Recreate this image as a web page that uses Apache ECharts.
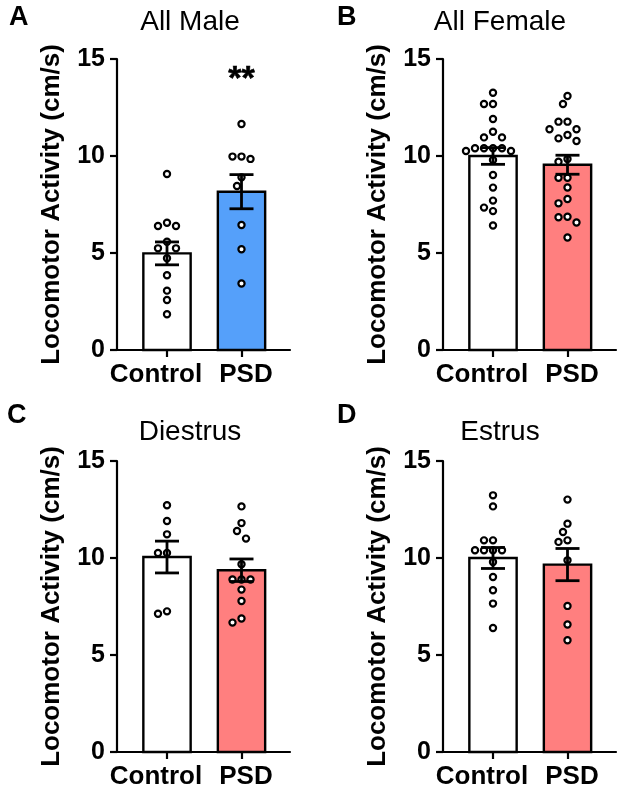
<!DOCTYPE html>
<html><head><meta charset="utf-8">
<script src="https://cdn.jsdelivr.net/npm/echarts@6/dist/echarts.min.js"></script>
<style>html,body{margin:0;padding:0;background:#fff}#c{width:624px;height:792px}</style>
</head><body><div id="c"></div>
<script>
// ---------- data ----------
const categories = ['Control', 'PSD'];
const panelTitles = ['All Male', 'All Female', 'Diestrus', 'Estrus'];
const panelLetters = ['A', 'B', 'C', 'D'];
const yTicks = [0, 5, 10, 15];
const yAxisName = 'Locomotor Activity (cm/s)';
const significance = '**';

// bar heights (mean) and SEM
const maleMean = [4.98, 8.16];     const maleSem = [0.59, 0.88];
const femaleMean = [10.0, 9.55];   const femaleSem = [0.43, 0.49];
const diestrusMean = [10.05, 9.37];const diestrusSem = [0.82, 0.58];
const estrusMean = [10.0, 9.66];   const estrusSem = [0.54, 0.83];

// individual animals
const maleControl = [9.07, 6.39, 6.39, 6.56, 5.58, 5.24, 5.24, 4.73, 3.85, 3.06, 2.58, 1.84];
const malePSD = [11.65, 9.97, 9.97, 9.85, 8.9, 8.45, 6.44, 5.19, 3.43];
const femaleControl = [13.26, 12.68, 12.68, 11.91, 11.25, 10.96, 10.96, 10.4, 10.4, 10.4, 10.4, 10.26, 10.26, 9.79, 9.02, 8.37, 7.7, 7.34, 7.16, 6.42];
const femalePSD = [13.09, 12.68, 11.77, 11.77, 11.38, 11.38, 11.08, 10.91, 10.77, 9.85, 9.71, 8.88, 8.88, 8.38, 7.78, 7.56, 6.87, 6.84, 6.57, 5.80];
const diestrusControl = [12.72, 11.91, 11.22, 10.26, 10.26, 7.13, 7.25];
const diestrusPSD = [12.66, 11.8, 11.39, 11.0, 9.68, 8.89, 8.89, 8.89, 8.37, 7.78, 6.88, 6.67];
const estrusControl = [13.23, 12.66, 10.91, 10.91, 10.4, 10.4, 10.4, 10.4, 9.79, 9.02, 8.34, 7.65, 6.39];
const estrusPSD = [13.01, 11.77, 11.34, 10.83, 10.91, 9.88, 7.53, 6.57, 5.76];

const panels = [
  { mean: maleMean, sem: maleSem, dots: [maleControl, malePSD], colors: ['#ffffff', '#55A0FA'], star: true },
  { mean: femaleMean, sem: femaleSem, dots: [femaleControl, femalePSD], colors: ['#ffffff', '#FF7F7F'] },
  { mean: diestrusMean, sem: diestrusSem, dots: [diestrusControl, diestrusPSD], colors: ['#ffffff', '#FF7F7F'] },
  { mean: estrusMean, sem: estrusSem, dots: [estrusControl, estrusPSD], colors: ['#ffffff', '#FF7F7F'] }
];

// ---------- layout ----------
const FONT = 'Liberation Sans, Arial, Helvetica, sans-serif';
const gridPos = [
  { left: 117, top: 59, width: 173, height: 291 },
  { left: 443, top: 59, width: 173, height: 291 },
  { left: 117, top: 461, width: 173, height: 291 },
  { left: 443, top: 461, width: 173, height: 291 }
];
const pxX = 74.5;           // pixels per category unit
const X_MIN = -50 / pxX, X_MAX = (173 - 50) / pxX;
const pxY = 291 / 15;       // pixels per y unit
const DOT = 9;              // dot spacing in px

function swarm(values, xc) {
  const sorted = values.slice().sort((a, b) => b - a);
  const placed = [], out = [];
  for (const v of sorted) {
    const y = v * pxY;
    let off = 0;
    for (let i = 0; i < 60; i++) {
      const cand = i === 0 ? 0 : (i % 2 ? -1 : 1) * Math.ceil(i / 2) * DOT / 2;
      if (placed.every(p => Math.hypot(p[0] - cand, p[1] - y) >= DOT)) { off = cand; break; }
    }
    placed.push([off, y]);
    out.push([xc + off / pxX, v]);
  }
  return out;
}

const titles = [], grids = [], xAxes = [], yAxes = [], series = [];
const letterPos = [[9, 4], [337, 4], [7, 402], [337, 402]];
const titlePos = [[190, 8], [500, 8], [190, 418], [500, 418]];

panels.forEach((p, i) => {
  titles.push({ text: panelLetters[i], left: letterPos[i][0], top: letterPos[i][1], padding: 0,
    textStyle: { fontFamily: FONT, fontSize: 27, fontWeight: 'bold', color: '#000' } });
  titles.push({ text: panelTitles[i], left: titlePos[i][0], top: titlePos[i][1], textAlign: 'center', padding: 0,
    textStyle: { fontFamily: FONT, fontSize: 28, fontWeight: 'normal', color: '#000' } });
  grids.push(Object.assign({ containLabel: false }, gridPos[i]));
  xAxes.push({
    type: 'value', gridIndex: i, min: X_MIN, max: X_MAX,
    axisLine: { show: true, onZero: false, lineStyle: { color: '#000', width: 2.2 } },
    axisTick: { show: true, customValues: [0, 1], length: 7, lineStyle: { color: '#000', width: 2.2 } },
    axisLabel: {
      customValues: [0, 1], margin: 12, color: '#000',
      formatter: v => (Math.round(v) === 0 ? '{a|' + categories[0] + '}' : '{b|' + categories[1] + '}'),
      rich: {
        a: { fontFamily: FONT, fontSize: 26, fontWeight: 'bold', color: '#000', padding: [0, 22, 0, 0] },
        b: { fontFamily: FONT, fontSize: 26, fontWeight: 'bold', color: '#000', padding: [0, 0, 0, 9] }
      }
    },
    splitLine: { show: false }
  });
  yAxes.push({
    type: 'value', gridIndex: i, min: yTicks[0], max: yTicks[yTicks.length - 1], interval: yTicks[1] - yTicks[0],
    name: yAxisName, nameLocation: 'middle', nameGap: 52,
    nameTextStyle: { fontFamily: FONT, fontSize: 26, fontWeight: 'bold', color: '#000' },
    axisLine: { show: true, onZero: false, lineStyle: { color: '#000', width: 2.2 } },
    axisTick: { show: true, length: 7, lineStyle: { color: '#000', width: 2.2 } },
    axisLabel: { fontFamily: FONT, fontSize: 25, fontWeight: 'bold', color: '#000', margin: 12 },
    splitLine: { show: false }
  });
  // bars
  series.push({
    type: 'custom', xAxisIndex: i, yAxisIndex: i, z: 2,
    data: p.mean.map((m, k) => ({ value: [k, m], itemStyle: { color: p.colors[k] } })),
    renderItem: (params, api) => {
      const x = api.value(0), v = api.value(1);
      const top = api.coord([x, v]), base = api.coord([x, 0]);
      const w = api.size([0.635, 0])[0];
      return { type: 'rect', shape: { x: top[0] - w / 2, y: top[1], width: w, height: base[1] - top[1] },
        style: { fill: api.visual('color'), stroke: '#000', lineWidth: 2.4 } };
    }
  });
  // dots
  const dotData = [].concat(swarm(p.dots[0], 0), swarm(p.dots[1], 1));
  series.push({
    type: 'scatter', xAxisIndex: i, yAxisIndex: i, z: 3, data: dotData,
    symbol: 'circle', symbolSize: 6.2,
    itemStyle: { color: '#fff', borderColor: '#000', borderWidth: 2.2, opacity: 1 },
    silent: true
  });
  // error bars
  series.push({
    type: 'custom', xAxisIndex: i, yAxisIndex: i, z: 4,
    data: p.mean.map((m, k) => [k, m, p.sem[k]]),
    renderItem: (params, api) => {
      const x = api.value(0), m = api.value(1), s = api.value(2);
      const hi = api.coord([x, m + s]), lo = api.coord([x, m - s]);
      const cw = 12;
      const st = { stroke: '#000', lineWidth: 2.8 };
      return { type: 'group', children: [
        { type: 'line', shape: { x1: hi[0], y1: hi[1], x2: lo[0], y2: lo[1] }, style: st },
        { type: 'line', shape: { x1: hi[0] - cw, y1: hi[1], x2: hi[0] + cw, y2: hi[1] }, style: st },
        { type: 'line', shape: { x1: lo[0] - cw, y1: lo[1], x2: lo[0] + cw, y2: lo[1] }, style: st }
      ] };
    }
  });
  if (p.star) {
    series.push({
      type: 'scatter', xAxisIndex: i, yAxisIndex: i, z: 5, symbolSize: 0,
      data: [[1, 13.95]],
      itemStyle: { color: '#000', opacity: 1 },
      label: { show: true, position: 'inside', formatter: significance, opacity: 1,
        fontFamily: FONT, fontSize: 34, fontWeight: 'bold', color: '#000',
        textBorderColor: '#000', textBorderWidth: 0.6 },
      silent: true
    });
  }
});

const chart = echarts.init(document.getElementById('c'), null, { renderer: 'canvas' });
chart.setOption({
  backgroundColor: '#fff', animation: false,
  title: titles, grid: grids, xAxis: xAxes, yAxis: yAxes, series: series
});
</script></body></html>
